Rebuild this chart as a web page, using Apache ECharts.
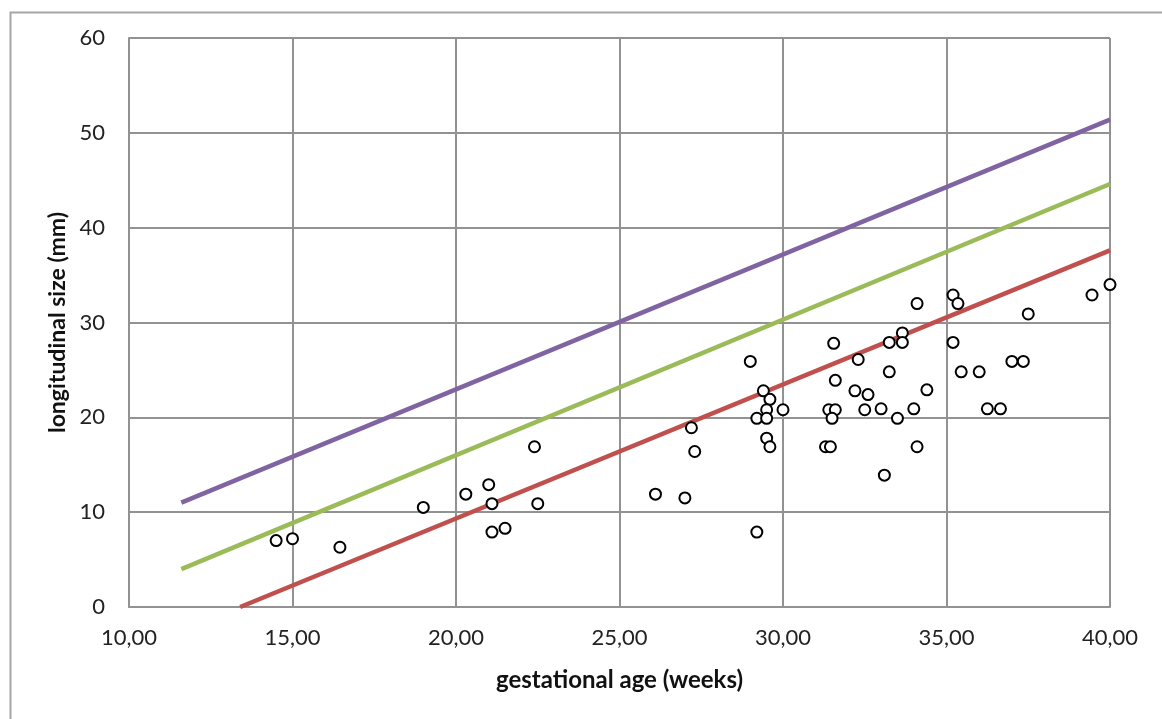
<!DOCTYPE html>
<html>
<head>
<meta charset="utf-8">
<script src="https://cdn.jsdelivr.net/npm/echarts@6/dist/echarts.min.js"></script>
<style>
  html, body { margin: 0; padding: 0; background: #fff; }
  #chart { width: 1162px; height: 719px; }
</style>
</head>
<body>
<div id="chart"></div>
<script>
// measured points: [gestational age (weeks), longitudinal size (mm)]
const measured = [
  [14.5, 7.0], [15.0, 7.2], [16.45, 6.3], [19.0, 10.5], [20.3, 11.9],
  [21.0, 12.9], [21.1, 10.9], [21.1, 7.9], [21.5, 8.3], [22.4, 16.9],
  [22.5, 10.9], [26.1, 11.9], [27.0, 11.5], [27.2, 18.9], [27.3, 16.4],
  [29.0, 25.9], [29.2, 7.9], [29.2, 19.9], [29.4, 22.8], [29.6, 21.9],
  [29.5, 20.8], [29.5, 19.9], [29.5, 17.8], [29.6, 16.9], [30.0, 20.8],
  [31.55, 27.8], [32.3, 26.1], [31.6, 23.9], [32.2, 22.8], [32.6, 22.4],
  [31.4, 20.8], [31.6, 20.8], [32.5, 20.8], [31.5, 19.9], [31.3, 16.9],
  [31.45, 16.9], [35.2, 32.9], [35.35, 32.0], [34.1, 32.0], [37.5, 30.9],
  [33.65, 28.9], [33.25, 27.9], [33.65, 27.9], [35.2, 27.9], [33.25, 24.8],
  [35.45, 24.8], [36.0, 24.8], [37.0, 25.9], [37.35, 25.9], [34.4, 22.9],
  [33.0, 20.9], [34.0, 20.9], [33.5, 19.9], [36.25, 20.9], [36.65, 20.9],
  [34.1, 16.9], [33.1, 13.9], [40.0, 34.0], [39.45, 32.9]
];

// reference lines (start / end)
const upperLine = [[11.6, 11.0], [40, 51.4]];
const middleLine = [[11.6, 4.0], [40, 44.6]];
const lowerLine = [[13.4, 0.0], [40, 37.6]];

const xTicks = [10, 15, 20, 25, 30, 35, 40];
const yTicks = [0, 10, 20, 30, 40, 50, 60];

const font = "Lato, 'Open Sans', sans-serif";
const chart = echarts.init(document.getElementById("chart"));

chart.setOption({
  animation: false,
  grid: { left: 129, top: 38, right: 52, bottom: 112 },
  graphic: [
    {
      type: "rect",
      left: 8, top: 10,
      shape: { width: 1170, height: 720 },
      style: { fill: "none", stroke: "#a6a6a6", lineWidth: 2 },
      silent: true
    }
  ],
  xAxis: {
    type: "value",
    min: xTicks[0],
    max: xTicks[xTicks.length - 1],
    interval: 5,
    name: "gestational age (weeks)",
    nameLocation: "middle",
    nameGap: 61,
    nameTextStyle: { fontFamily: font, fontSize: 24, fontWeight: "bold", color: "#111" },
    axisLine: { show: true, lineStyle: { color: "#929292", width: 2 } },
    axisTick: { show: false },
    axisLabel: {
      margin: 20,
      fontFamily: font, fontSize: 22, color: "#222",
      formatter: (v) => v.toFixed(2).replace(".", ",")
    },
    splitLine: { show: true, lineStyle: { color: "#929292", width: 2 } }
  },
  yAxis: {
    type: "value",
    min: yTicks[0],
    max: yTicks[yTicks.length - 1],
    interval: 10,
    name: "longitudinal size (mm)",
    nameLocation: "middle",
    nameGap: 60,
    nameTextStyle: { fontFamily: font, fontSize: 23, fontWeight: "bold", color: "#111" },
    axisLine: { show: true, lineStyle: { color: "#929292", width: 2 } },
    axisTick: { show: false },
    axisLabel: { margin: 24, fontFamily: font, fontSize: 22, color: "#222" },
    splitLine: { show: true, lineStyle: { color: "#929292", width: 2 } }
  },
  series: [
    {
      type: "line",
      data: upperLine,
      symbol: "none",
      lineStyle: { color: "#8064a2", width: 4.5 },
      z: 2
    },
    {
      type: "line",
      data: middleLine,
      symbol: "none",
      lineStyle: { color: "#9bbb59", width: 4.5 },
      z: 2
    },
    {
      type: "line",
      data: lowerLine,
      symbol: "none",
      lineStyle: { color: "#c0504d", width: 4.5 },
      z: 2
    },
    {
      type: "scatter",
      data: measured,
      symbol: "circle",
      symbolSize: 11,
      itemStyle: { color: "#fff", borderColor: "#000", borderWidth: 2, opacity: 1 },
      z: 3
    }
  ]
});
</script>
</body>
</html>
